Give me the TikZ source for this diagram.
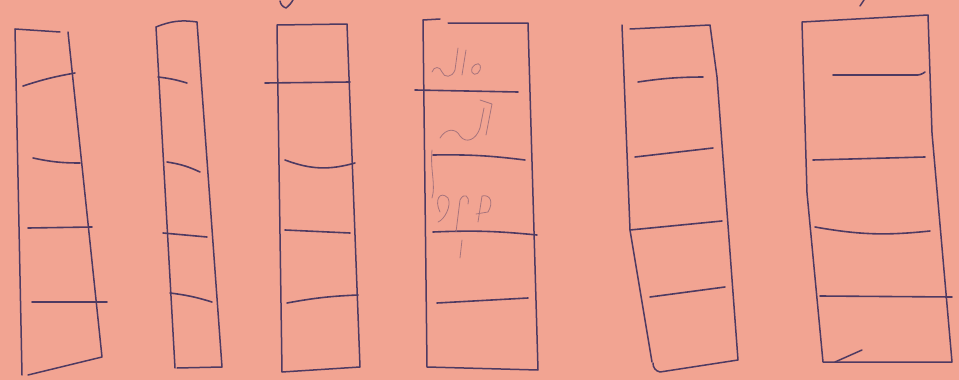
\documentclass[tikz,border=0pt]{standalone}
\begin{document}
\begin{tikzpicture}[x=1pt,y=-1pt,
  pen/.style={draw=inkcol,line width=1.5pt,line cap=round,line join=round},
  rung/.style={draw=inkcol,line width=1.6pt,line cap=round},
  pencil/.style={draw=inkcol!45!bgcol,line width=0.8pt,line cap=round,line join=round}]
\definecolor{bgcol}{RGB}{242,164,146}
\definecolor{inkcol}{RGB}{78,58,98}
\fill[bgcol] (0,0) rectangle (959,380);
\useasboundingbox (0,0) rectangle (959,380);
% box 1
\draw[pen] (15,29) -- (60,32);
\draw[pen] (68,32) -- (102,357) -- (28,375);
\draw[pen] (15,29) -- (22,375);
\draw[rung] (23,86) to[bend left=4] (75,73);
\draw[rung] (33,158) to[bend right=6] (80,163);
\draw[rung] (28,228) -- (92,227);
\draw[rung] (32,302) -- (107,302);
% box 2
\draw[pen] (156,27) to[bend left=15] (197,22) -- (222,367) -- (177,368);
\draw[pen] (156,27) -- (175,368);
\draw[rung] (158,77) to[bend left=5] (187,83);
\draw[rung] (167,162) to[bend left=8] (200,172);
\draw[rung] (163,233) -- (207,237);
\draw[rung] (170,293) to[bend left=5] (212,302);
% box 3
\draw[pen] (277,27) -- (277,25) -- (347,24) -- (360,367) -- (282,372) -- (277,27);
\draw[rung] (265,83) -- (350,82);
\draw[rung] (285,160) to[bend right=18] (355,163);
\draw[rung] (285,230) -- (350,233);
\draw[rung] (287,303) to[bend left=4] (358,295);
\draw[pen] (280,1) to[bend right=30] (286,8) to[bend right=10] (293,0);
% box 4
\draw[pen] (423,20) -- (427,367) -- (538,370) -- (528,23) -- (448,23);
\draw[pen] (423,20) -- (440,19);
\draw[rung] (415,90) -- (518,92);
\draw[rung] (433,155) to[bend left=4] (525,160);
\draw[rung] (433,232) to[bend left=4] (537,235);
\draw[rung] (437,303) -- (528,298);
% faint pencil scribbles in box 4
\draw[pencil] (432,72) .. controls (434,66) and (440,66) .. (442,72) .. controls (444,78) and (452,78) .. (455,70) -- (458,48);
\draw[pencil] (462,75) -- (466,50);
\draw[pencil] (472,68) .. controls (476,62) and (482,62) .. (480,70) .. controls (478,76) and (470,76) .. (472,68);
\draw[pencil] (480,100) -- (492,104) -- (486,135);
\draw[pencil] (440,138) .. controls (446,128) and (456,128) .. (460,136) .. controls (466,144) and (476,140) .. (480,128) -- (484,108);
\draw[pencil] (432,150) .. controls (430,170) and (436,185) .. (432,198);
\draw[pencil] (440,212) .. controls (434,200) and (440,190) .. (448,198) .. controls (452,206) and (444,220) .. (438,222);
\draw[pencil] (456,232) -- (460,200) .. controls (464,192) and (470,196) .. (468,204);
\draw[pencil] (478,222) -- (482,196) .. controls (490,194) and (494,202) .. (488,212) -- (476,214);
\draw[pencil] (462,240) -- (460,258);
% box 5
\draw[pen] (630,29) -- (710,25) -- (717,77) -- (738,360) -- (660,372) to[bend left=40] (653,363);
\draw[pen] (622,25) -- (630,230) -- (652,362);
\draw[rung] (638,82) to[bend left=4] (703,77);
\draw[rung] (635,157) -- (713,148);
\draw[rung] (630,230) -- (722,221);
\draw[rung] (650,297) -- (725,287);
% box 6
\draw[pen] (802,22) -- (928,15) -- (932,133) -- (952,362) -- (823,362) -- (807,193) -- (802,22);
\draw[pen] (835,362) -- (862,350);
\draw[rung] (833,75) -- (915,75) to[bend right=20] (925,72);
\draw[rung] (813,160) -- (925,157);
\draw[rung] (815,227) to[bend right=8] (930,231);
\draw[rung] (820,296) -- (952,297);
\draw[pen] (860,6) -- (864,0);
\end{tikzpicture}
\end{document}
